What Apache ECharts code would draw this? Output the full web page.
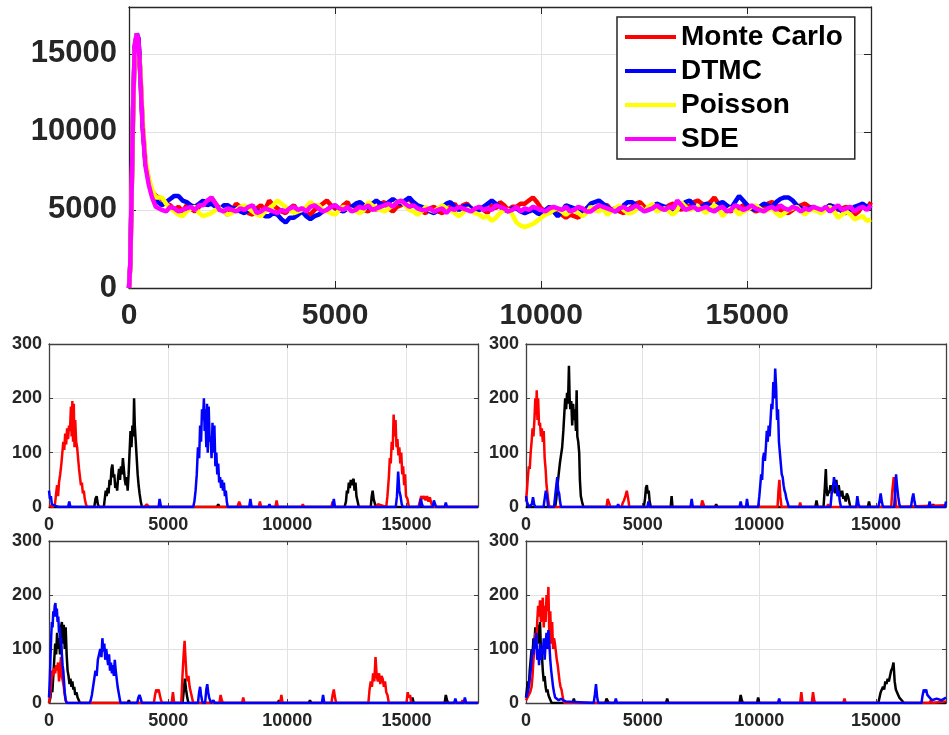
<!DOCTYPE html>
<html><head><meta charset="utf-8">
<script src="https://cdn.jsdelivr.net/npm/echarts/dist/echarts.min.js"></script>
<style>html,body{margin:0;padding:0;background:#fff}#c{width:949px;height:735px}</style>
</head><body><div id="c"></div><script>
// ---------- Top plot data ----------
const legendNames = ['Monte Carlo', 'DTMC', 'Poisson', 'SDE'];
const spikeT = [0, 30, 60, 100, 140, 190, 230, 280, 330, 400, 480, 560, 650];
const redSpike = [0, 1400, 5400, 11400, 15400, 16200, 15900, 13400, 10400, 8000, 6900, 6200, 5900];
const blueSpike = [0, 1500, 5500, 11500, 15500, 16300, 16000, 13500, 10500, 8000, 6800, 6000, 5600];
const yellowSpike = [0, 1300, 5200, 11000, 15200, 16300, 16200, 13900, 10900, 8300, 7000, 6300, 5800];
const magentaSpike = [0, 1500, 5500, 11600, 15600, 16300, 15900, 13300, 10300, 7800, 6600, 5800, 5200];
const NOISE_T0 = 800, NOISE_DT = 100; // sample times 800..18000
const redNoise = [
 5700,5400,5300,5000,5200,4900,5300,5100,4900,5200,
 5500,5300,5800,5400,5100,4900,4700,5000,5400,5200,
 5000,4800,4700,5100,5300,5000,5600,5300,5100,4900,
 4800,5100,5300,4900,5100,4800,4700,5000,5200,5400,
 5600,5300,5100,4900,5300,5500,5000,5200,5300,5000,
 4900,5200,5000,5400,5500,5100,4900,5200,5300,5600,
 5700,5400,5200,4900,4800,5100,5200,4900,4800,5000,
 5200,5400,5000,5300,5400,5100,4900,5200,5000,4800,
 5300,5100,5500,5300,5000,5200,5200,5400,5400,5600,
 5800,5500,5100,4900,4800,5100,5000,4700,4500,4700,
 4600,4500,4900,5100,5200,5000,5000,5300,5300,5000,
 5100,4900,4800,5000,5200,5400,5500,5200,5000,5300,
 5300,5000,5100,5300,5400,5200,5000,5300,5200,5500,
 5600,5400,5300,5500,5800,5400,5200,5000,4900,5200,
 5100,5300,5300,5100,4900,5000,5200,5400,5500,5300,
 5000,4900,4800,5000,5200,5300,5400,5200,5100,5000,
 4900,5100,5300,5200,5000,5100,5200,4900,4700,4900,
 5300,5100,5500];
const blueNoise = [
 5300,5500,5700,5900,5900,5600,5500,5300,5200,5400,
 5600,5300,5400,5200,5000,5300,5300,5100,5100,4900,
 4800,5000,5200,4900,4900,4600,4600,4800,4700,4400,
 4200,4500,4500,4700,4900,4600,4400,4600,4700,4900,
 5000,5200,5300,5000,4900,5100,5200,5400,5500,5300,
 5100,5400,5600,5400,5300,5500,5700,5500,5400,5600,
 5800,5500,5300,5200,5100,4900,4800,5000,5200,5400,
 5500,5200,5000,5200,5300,5100,4900,5000,5200,5400,
 5600,5400,5200,5000,4900,5100,5100,4900,4800,4900,
 5000,4800,4700,5000,5200,4900,4600,4900,5300,5200,
 5100,4900,4800,5100,5400,5500,5600,5400,5200,5000,
 4900,5100,5300,5500,5500,5300,5100,5000,5000,5200,
 5400,5300,5200,5000,4800,5000,5300,5500,5600,5300,
 5000,5200,5400,5300,5200,5400,5500,5300,5100,5500,
 5900,5600,5300,5100,5000,5200,5400,5300,5200,5500,
 5700,5800,5800,5600,5300,5100,5000,5100,5200,5000,
 4900,5100,5300,5200,5100,4900,4800,5000,5200,5300,
 5400,5200,5100];
const yellowNoise = [
 5800,5400,5100,4900,4700,4600,4900,5100,5200,4800,
 4600,4700,4800,5000,5100,4900,4700,4800,5000,5200,
 5300,5100,4900,4700,4600,4900,5100,5300,5600,5400,
 5200,5000,4800,4900,5000,5200,5500,5300,5300,5000,
 4900,4800,4700,5000,5200,5100,5000,4900,4800,5000,
 5500,5300,5100,5000,4900,5100,5300,5500,5600,5300,
 5000,4900,4700,4900,5200,5000,4900,5100,5300,5100,
 5000,4800,4600,4800,5100,4900,4800,4700,4500,4600,
 4300,4500,4800,5000,5000,4700,4200,4000,3900,4000,
 4100,4300,4500,4700,4800,5000,5100,4900,4700,4900,
 5000,4800,4600,4800,5200,5000,4900,5100,4700,4900,
 5100,5300,5000,4800,4800,5000,5200,4900,5200,5400,
 4900,5000,5100,4900,4700,5000,5500,5200,5000,5100,
 5200,5000,4800,5100,5300,5100,4600,4900,5100,5000,
 4700,4900,5000,5200,5300,5100,4900,5000,5100,4800,
 4600,4800,5000,5100,5200,4900,4700,5000,5000,4900,
 4800,5000,5200,4900,4500,4700,4900,4700,4400,4500,
 4600,4300,4400];
const magentaNoise = [
 5000,4900,5200,5100,4900,5000,5100,5200,5000,5300,
 5300,5600,5800,5400,5000,4900,5100,5000,4900,5100,
 5000,5200,5300,4800,4900,5100,5000,4900,4800,5000,
 4900,5100,5200,5000,5100,4900,5200,5300,5100,4900,
 5000,5200,5300,5100,5000,5200,4900,5000,5200,5100,
 5300,5000,5100,5200,5300,5400,5200,5500,5600,5400,
 5200,5300,5100,5000,5000,5100,4900,5000,5100,4800,
 5100,5000,5200,5100,5000,4900,5100,5200,5000,5100,
 5000,5300,5200,5100,4900,5000,5200,4900,5100,5000,
 5200,5100,5000,4900,5100,5200,5100,5000,5200,4900,
 5000,5200,5100,4900,4900,5100,5300,5200,5100,5000,
 4900,5100,5200,5000,5100,5300,5100,4900,5000,5100,
 5300,5100,5000,5200,5100,5600,5300,5000,5100,5200,
 5000,5100,5200,5000,4900,5100,5200,4900,5000,5300,
 5200,5000,5100,5300,5100,5000,4900,5100,5200,5000,
 5300,5100,5000,5200,5100,4900,5100,5000,5200,5100,
 5000,5200,4900,5100,5300,5000,5100,5200,4900,5100,
 5200,5000,5300];

// ---------- Bottom plots data: [time, value] ----------
// Panel A (top-left)
const aBlack = [[0,0],[1900,0],[1950,15],[2000,20],[2050,5],[2100,0],[2300,0],[2340,15],[2380,30],[2420,20],[2460,35],[2500,25],[2540,50],[2580,40],[2620,70],[2660,78],[2700,55],[2740,60],[2780,35],[2820,45],[2860,30],[2900,55],[2940,70],[2980,50],[3020,75],[3060,60],[3100,90],[3140,70],[3180,50],[3220,40],[3260,55],[3300,30],[3340,60],[3380,100],[3420,140],[3460,110],[3500,150],[3540,130],[3570,200],[3600,150],[3640,120],[3680,90],[3720,60],[3760,40],[3800,25],[3850,10],[3900,0],[7050,0],[7100,5],[7150,0],[12400,0],[12460,10],[12500,30],[12540,25],[12580,45],[12620,35],[12660,50],[12700,40],[12740,48],[12780,52],[12820,30],[12860,45],[12900,20],[12950,10],[13000,0],[13500,0],[13540,20],[13580,30],[13620,15],[13680,5],[13720,0],[18000,0]];
const aRed = [[0,3],[150,0],[250,5],[300,25],[340,40],[380,20],[420,45],[470,60],[520,80],[560,100],[600,120],[640,105],[680,135],[720,115],[760,145],[800,125],[840,150],[880,140],[920,185],[950,130],[980,195],[1010,120],[1040,190],[1070,110],[1100,160],[1140,120],[1180,110],[1220,90],[1260,70],[1300,55],[1340,40],[1380,45],[1420,25],[1460,30],[1500,15],[1550,5],[1600,0],[4000,0],[4100,5],[4200,0],[7900,0],[7980,10],[8060,0],[8800,0],[8850,10],[8900,0],[9500,0],[9550,12],[9600,0],[10600,0],[10650,5],[10700,0],[11850,0],[11900,10],[11950,0],[13700,0],[13800,5],[14150,0],[14200,20],[14260,55],[14300,90],[14340,80],[14380,120],[14420,105],[14460,170],[14500,130],[14540,160],[14580,110],[14620,125],[14660,95],[14700,110],[14740,80],[14780,100],[14820,60],[14860,75],[14900,40],[14940,60],[14980,20],[15040,15],[15100,0],[15500,0],[15560,10],[15620,20],[15680,15],[15740,20],[15800,12],[15860,20],[15920,10],[15980,18],[16050,5],[16100,0],[18000,0]];
const aBlue = [[0,30],[40,15],[80,20],[120,5],[200,8],[280,2],[400,0],[800,0],[850,10],[900,0],[4600,0],[4640,15],[4700,0],[6050,0],[6100,10],[6150,30],[6200,60],[6250,110],[6300,90],[6340,150],[6380,120],[6420,180],[6460,160],[6500,200],[6530,140],[6560,180],[6600,110],[6630,190],[6660,100],[6700,185],[6740,120],[6780,130],[6820,90],[6860,155],[6900,100],[6940,150],[6980,75],[7020,100],[7060,60],[7100,80],[7140,45],[7180,55],[7220,35],[7260,50],[7300,30],[7340,45],[7380,20],[7420,30],[7460,10],[7500,0],[8400,0],[8450,15],[8500,0],[9200,0],[9250,5],[9300,0],[11900,0],[11950,15],[12000,0],[14550,0],[14600,20],[14650,65],[14700,30],[14750,20],[14800,5],[14850,0],[15550,0],[15600,15],[15650,5],[15700,0],[16100,0],[16150,12],[16200,5],[16250,0],[16600,0],[16650,8],[16700,0],[18000,0]];
// Panel B (top-right)
const bBlack = [[0,0],[1250,0],[1300,15],[1350,40],[1400,60],[1450,80],[1500,95],[1550,110],[1600,140],[1640,170],[1680,200],[1720,180],[1760,210],[1800,190],[1840,260],[1870,200],[1900,180],[1940,195],[1980,150],[2020,190],[2060,160],[2100,180],[2140,140],[2170,215],[2200,130],[2240,120],[2280,100],[2310,50],[2350,20],[2400,10],[2460,0],[5050,0],[5100,15],[5140,35],[5180,40],[5220,25],[5260,30],[5300,10],[5350,0],[6200,0],[6240,20],[6280,0],[8100,0],[8150,5],[8200,0],[12400,0],[12450,12],[12500,0],[12750,0],[12800,30],[12850,70],[12880,35],[12920,20],[12960,30],[13000,25],[13050,40],[13100,30],[13200,45],[13250,25],[13300,50],[13350,30],[13400,40],[13450,25],[13500,20],[13550,30],[13600,15],[13650,20],[13700,10],[13750,25],[13800,20],[13850,10],[13900,0],[14650,0],[14700,10],[14750,0],[17400,0],[17450,5],[17500,0],[18000,0]];
const bRed = [[0,10],[40,30],[80,55],[120,75],[160,70],[200,100],[240,120],[280,145],[320,130],[360,160],[400,200],[430,170],[460,215],[490,160],[520,200],[560,150],[600,155],[640,130],[680,145],[720,120],[760,140],[800,90],[840,70],[880,40],[920,25],[960,10],[1000,0],[3450,0],[3500,15],[3560,12],[3620,0],[4100,0],[4150,8],[4200,12],[4260,20],[4320,30],[4380,15],[4430,0],[7500,0],[7550,12],[7600,15],[7650,0],[10780,0],[10820,30],[10860,50],[10900,20],[10950,0],[11700,0],[11750,8],[11800,0],[12900,0],[12950,5],[13000,0],[15650,0],[15700,30],[15760,55],[15820,25],[15860,0],[18000,3]];
const bBlue = [[0,20],[40,10],[80,5],[120,0],[250,5],[300,18],[350,5],[400,0],[750,0],[800,15],[850,30],[900,20],[950,0],[1200,0],[1250,20],[1300,40],[1340,55],[1380,30],[1420,25],[1460,10],[1500,0],[3900,0],[3950,5],[4000,0],[5200,0],[5250,10],[5300,0],[7050,0],[7100,15],[7150,0],[9150,0],[9200,10],[9250,0],[9430,0],[9470,15],[9520,0],[9950,0],[10000,20],[10040,40],[10080,60],[10120,50],[10160,90],[10200,100],[10240,85],[10280,110],[10320,140],[10360,120],[10400,150],[10440,130],[10480,160],[10520,190],[10560,180],[10600,230],[10640,200],[10680,255],[10720,220],[10760,160],[10800,180],[10840,120],[10880,100],[10920,80],[10960,60],[11000,55],[11040,40],[11080,30],[11120,25],[11160,15],[11200,10],[11260,0],[13050,0],[13100,25],[13150,30],[13200,55],[13250,40],[13300,45],[13350,20],[13400,30],[13450,10],[13500,0],[14150,0],[14200,20],[14250,5],[14300,0],[15100,0],[15150,10],[15200,25],[15250,10],[15300,0],[15780,0],[15820,30],[15860,60],[15900,40],[15950,20],[16000,5],[16050,0],[16500,0],[16550,15],[16600,25],[16650,10],[16700,0],[17250,0],[17300,10],[17350,0],[17950,0],[18000,10]];
// Panel C (bottom-left)
const cBlack = [[0,0],[60,10],[100,30],[140,20],[180,50],[220,80],[260,110],[300,90],[340,130],[380,100],[420,120],[460,90],[500,140],[540,150],[580,110],[620,145],[660,100],[700,140],[740,90],[780,60],[820,50],[860,35],[900,45],[940,30],[980,40],[1020,25],[1060,30],[1100,15],[1150,20],[1200,10],[1250,5],[1300,0],[3300,0],[3350,5],[3400,0],[5600,0],[5650,20],[5700,45],[5750,25],[5800,10],[5850,0],[9600,0],[9650,5],[9700,0],[10900,0],[10950,5],[11000,0],[15200,0],[15250,10],[15300,0],[16600,0],[16650,15],[16700,5],[16750,0],[18000,0]];
const cRed = [[0,0],[60,20],[100,40],[140,60],[180,50],[220,65],[260,55],[300,70],[340,60],[380,75],[420,40],[460,60],[500,85],[540,50],[580,40],[620,30],[660,15],[700,5],[740,0],[2000,0],[2050,3],[2100,0],[4400,0],[4450,15],[4500,25],[4550,20],[4600,25],[4650,15],[4700,5],[4750,0],[5150,0],[5200,20],[5250,0],[5550,0],[5600,50],[5650,90],[5690,115],[5730,80],[5770,50],[5810,40],[5850,50],[5900,30],[5950,20],[6000,10],[6050,0],[7150,0],[7200,15],[7250,5],[7300,0],[8100,0],[8150,10],[8200,0],[9700,0],[9750,15],[9800,0],[11850,0],[11900,15],[11950,25],[12000,10],[12050,0],[13400,0],[13450,25],[13500,40],[13550,30],[13600,55],[13650,40],[13700,85],[13750,50],[13800,40],[13850,55],[13900,35],[13950,50],[14000,45],[14050,30],[14100,40],[14150,20],[14200,15],[14260,0],[15000,0],[15050,20],[15100,10],[15150,15],[15200,0],[17300,0],[17350,5],[17400,0],[18000,0]];
const cBlue = [[0,10],[30,40],[60,80],[90,120],[120,150],[150,140],[180,170],[210,160],[240,180],[270,185],[300,160],[330,175],[360,150],[390,160],[420,130],[450,140],[480,110],[510,120],[540,90],[570,70],[600,60],[630,40],[660,20],[700,5],[750,0],[1700,0],[1750,5],[1800,15],[1850,30],[1900,45],[1950,60],[2000,50],[2050,80],[2100,90],[2150,100],[2200,85],[2240,120],[2280,95],[2320,110],[2360,80],[2400,100],[2440,85],[2480,70],[2520,90],[2560,60],[2600,75],[2640,55],[2680,70],[2720,50],[2760,80],[2800,60],[2840,45],[2880,30],[2920,20],[2960,10],[3000,0],[3700,0],[3750,10],[3800,15],[3850,8],[3900,0],[6250,0],[6300,20],[6340,30],[6380,15],[6420,5],[6460,0],[6550,0],[6600,25],[6640,35],[6680,20],[6720,10],[6800,0],[6900,5],[6950,0],[11450,0],[11500,15],[11550,0],[17000,0],[17050,8],[17100,0],[17400,0],[17450,10],[17500,0],[18000,0]];
// Panel D (bottom-right)
const dBlack = [[0,10],[40,25],[80,40],[120,30],[160,60],[200,80],[240,100],[280,90],[320,120],[360,110],[400,140],[440,130],[480,120],[520,145],[560,110],[600,150],[640,100],[680,90],[720,60],[760,40],[800,50],[840,30],[880,20],[920,25],[960,15],[1000,10],[1050,5],[1100,0],[2000,0],[2050,8],[2100,0],[3400,0],[3450,8],[3500,5],[3550,0],[6000,0],[6050,8],[6100,0],[9150,0],[9200,15],[9250,5],[9300,0],[9900,0],[9950,10],[10000,0],[15100,0],[15150,10],[15200,20],[15250,25],[15300,30],[15350,25],[15400,40],[15450,35],[15500,45],[15550,40],[15600,50],[15650,60],[15700,65],[15750,75],[15800,40],[15850,25],[15900,20],[15950,15],[16000,10],[16050,8],[16100,5],[16200,0],[18000,0]];
const dRed = [[0,5],[60,10],[120,15],[180,20],[240,30],[280,50],[320,80],[360,100],[400,130],[440,110],[480,150],[520,180],[560,160],[600,190],[640,150],[680,170],[720,195],[760,140],[800,180],[840,150],[880,200],[920,170],[960,215],[1000,120],[1040,170],[1080,110],[1120,150],[1160,100],[1200,120],[1240,110],[1280,95],[1320,80],[1360,70],[1400,55],[1440,40],[1480,30],[1520,25],[1560,15],[1600,5],[1650,0],[11750,0],[11800,20],[11850,0],[12250,0],[12300,20],[12350,5],[12400,0],[13600,0],[13650,8],[13700,0],[17300,0],[17350,5],[17400,0],[18000,3]];
const dBlue = [[0,10],[40,15],[80,20],[120,30],[160,45],[200,60],[240,80],[280,100],[320,90],[360,120],[400,100],[440,130],[480,80],[520,100],[560,70],[600,110],[640,80],[680,100],[720,90],[760,120],[800,80],[840,110],[880,130],[920,100],[960,135],[1000,110],[1040,80],[1080,60],[1120,45],[1160,30],[1200,20],[1250,10],[1300,8],[1400,5],[1500,8],[1600,5],[1700,3],[2900,0],[2950,15],[3000,35],[3050,10],[3100,0],[3800,0],[3850,8],[3900,0],[10800,0],[10850,8],[10900,0],[16950,0],[17000,15],[17050,25],[17100,20],[17150,25],[17200,15],[17300,10],[17400,5],[17600,8],[17800,5],[18000,10]];

// ---------- build chart ----------
const FONT = '"Liberation Sans", Arial, Helvetica, sans-serif';
const grids = [
  {left:129, top:7, width:742, height:281},
  {left:49, top:344, width:429, height:163},
  {left:526, top:344, width:430, height:163},
  {left:49, top:541, width:429, height:162},
  {left:526, top:541, width:430, height:162}
];
const xAxes = [], yAxes = [];
function addAxes(gi, ymax, yint, xfs, yfs, tickLen, xMargin, yMargin, lineColor){
  const base = {color:'#262626', fontWeight:'bold', fontFamily:FONT};
  const line = {show:true, onZero:false, lineStyle:{color:lineColor, width:1.3}};
  const tick = {show:true, inside:true, length:tickLen, lineStyle:{color:lineColor, width:1}};
  const grid = {show:true, lineStyle:{color:'#e2e2e2', width:1}};
  xAxes.push({gridIndex:gi, type:'value', min:0, max:18000, interval:5000, position:'bottom',
    axisLine:line, axisTick:tick, splitLine:grid,
    axisLabel:Object.assign({}, base, {fontSize:xfs, margin:xMargin,
      formatter: v => (v % 5000 === 0 ? String(v) : '')})});
  xAxes.push({gridIndex:gi, type:'value', min:0, max:18000, interval:5000, position:'top',
    axisLine:line, axisTick:tick, splitLine:{show:false}, axisLabel:{show:false}});
  yAxes.push({gridIndex:gi, type:'value', min:0, max:ymax, interval:yint, position:'left',
    axisLine:line, axisTick:tick, splitLine:grid,
    axisLabel:Object.assign({}, base, {fontSize:yfs, margin:yMargin,
      formatter: v => (v % yint === 0 ? String(v) : '')})});
  yAxes.push({gridIndex:gi, type:'value', min:0, max:ymax, interval:yint, position:'right',
    axisLine:line, axisTick:tick, splitLine:{show:false}, axisLabel:{show:false}});
}
addAxes(0, 18000, 5000, 30, 31, 7, 13, 12, '#262626');
for (let g = 1; g <= 4; g++) addAxes(g, 300, 100, 18, 18, 4, 9, 7, '#404040');

function topData(spike, noise){
  const d = [];
  spikeT.forEach((t,i) => d.push([t, spike[i]]));
  noise.forEach((v,i) => d.push([NOISE_T0 + i*NOISE_DT, v]));
  return d;
}
function ser(name, gi, data, color, width){
  return {name:name, type:'line', xAxisIndex:2*gi, yAxisIndex:2*gi, data:data,
    showSymbol:false, symbol:'none', lineStyle:{color:color, width:width}, itemStyle:{color:color},
    emphasis:{disabled:true}};
}
const series = [
  ser(legendNames[0], 0, topData(redSpike, redNoise), '#ff0000', 4.5),
  ser(legendNames[1], 0, topData(blueSpike, blueNoise), '#0000ff', 4.5),
  ser(legendNames[2], 0, topData(yellowSpike, yellowNoise), '#ffff00', 4.5),
  ser(legendNames[3], 0, topData(magentaSpike, magentaNoise), '#ff00ff', 4.5)
];
const panels = [[aBlack,aRed,aBlue],[bBlack,bRed,bBlue],[cBlack,cRed,cBlue],[dBlack,dRed,dBlue]];
panels.forEach((p, k) => {
  series.push(ser('k'+k, k+1, p[0], '#000000', 2.5));
  series.push(ser('r'+k, k+1, p[1], '#ff0000', 2.5));
  series.push(ser('b'+k, k+1, p[2], '#0000ff', 2.5));
});

const chart = echarts.init(document.getElementById('c'), null, {renderer:'canvas'});
chart.setOption({
  animation:false,
  backgroundColor:'#ffffff',
  grid:grids,
  xAxis:xAxes,
  yAxis:yAxes,
  legend:{data:legendNames, orient:'vertical', left:617, top:17,
    backgroundColor:'#ffffff', borderColor:'#262626', borderWidth:1.5,
    padding:[5,12,5,8], itemGap:4, itemWidth:51, itemHeight:4, icon:'rect',
    textStyle:{color:'#000', fontWeight:'bold', fontSize:28, fontFamily:FONT, lineHeight:30}},
  series:series
});
</script></body></html>
